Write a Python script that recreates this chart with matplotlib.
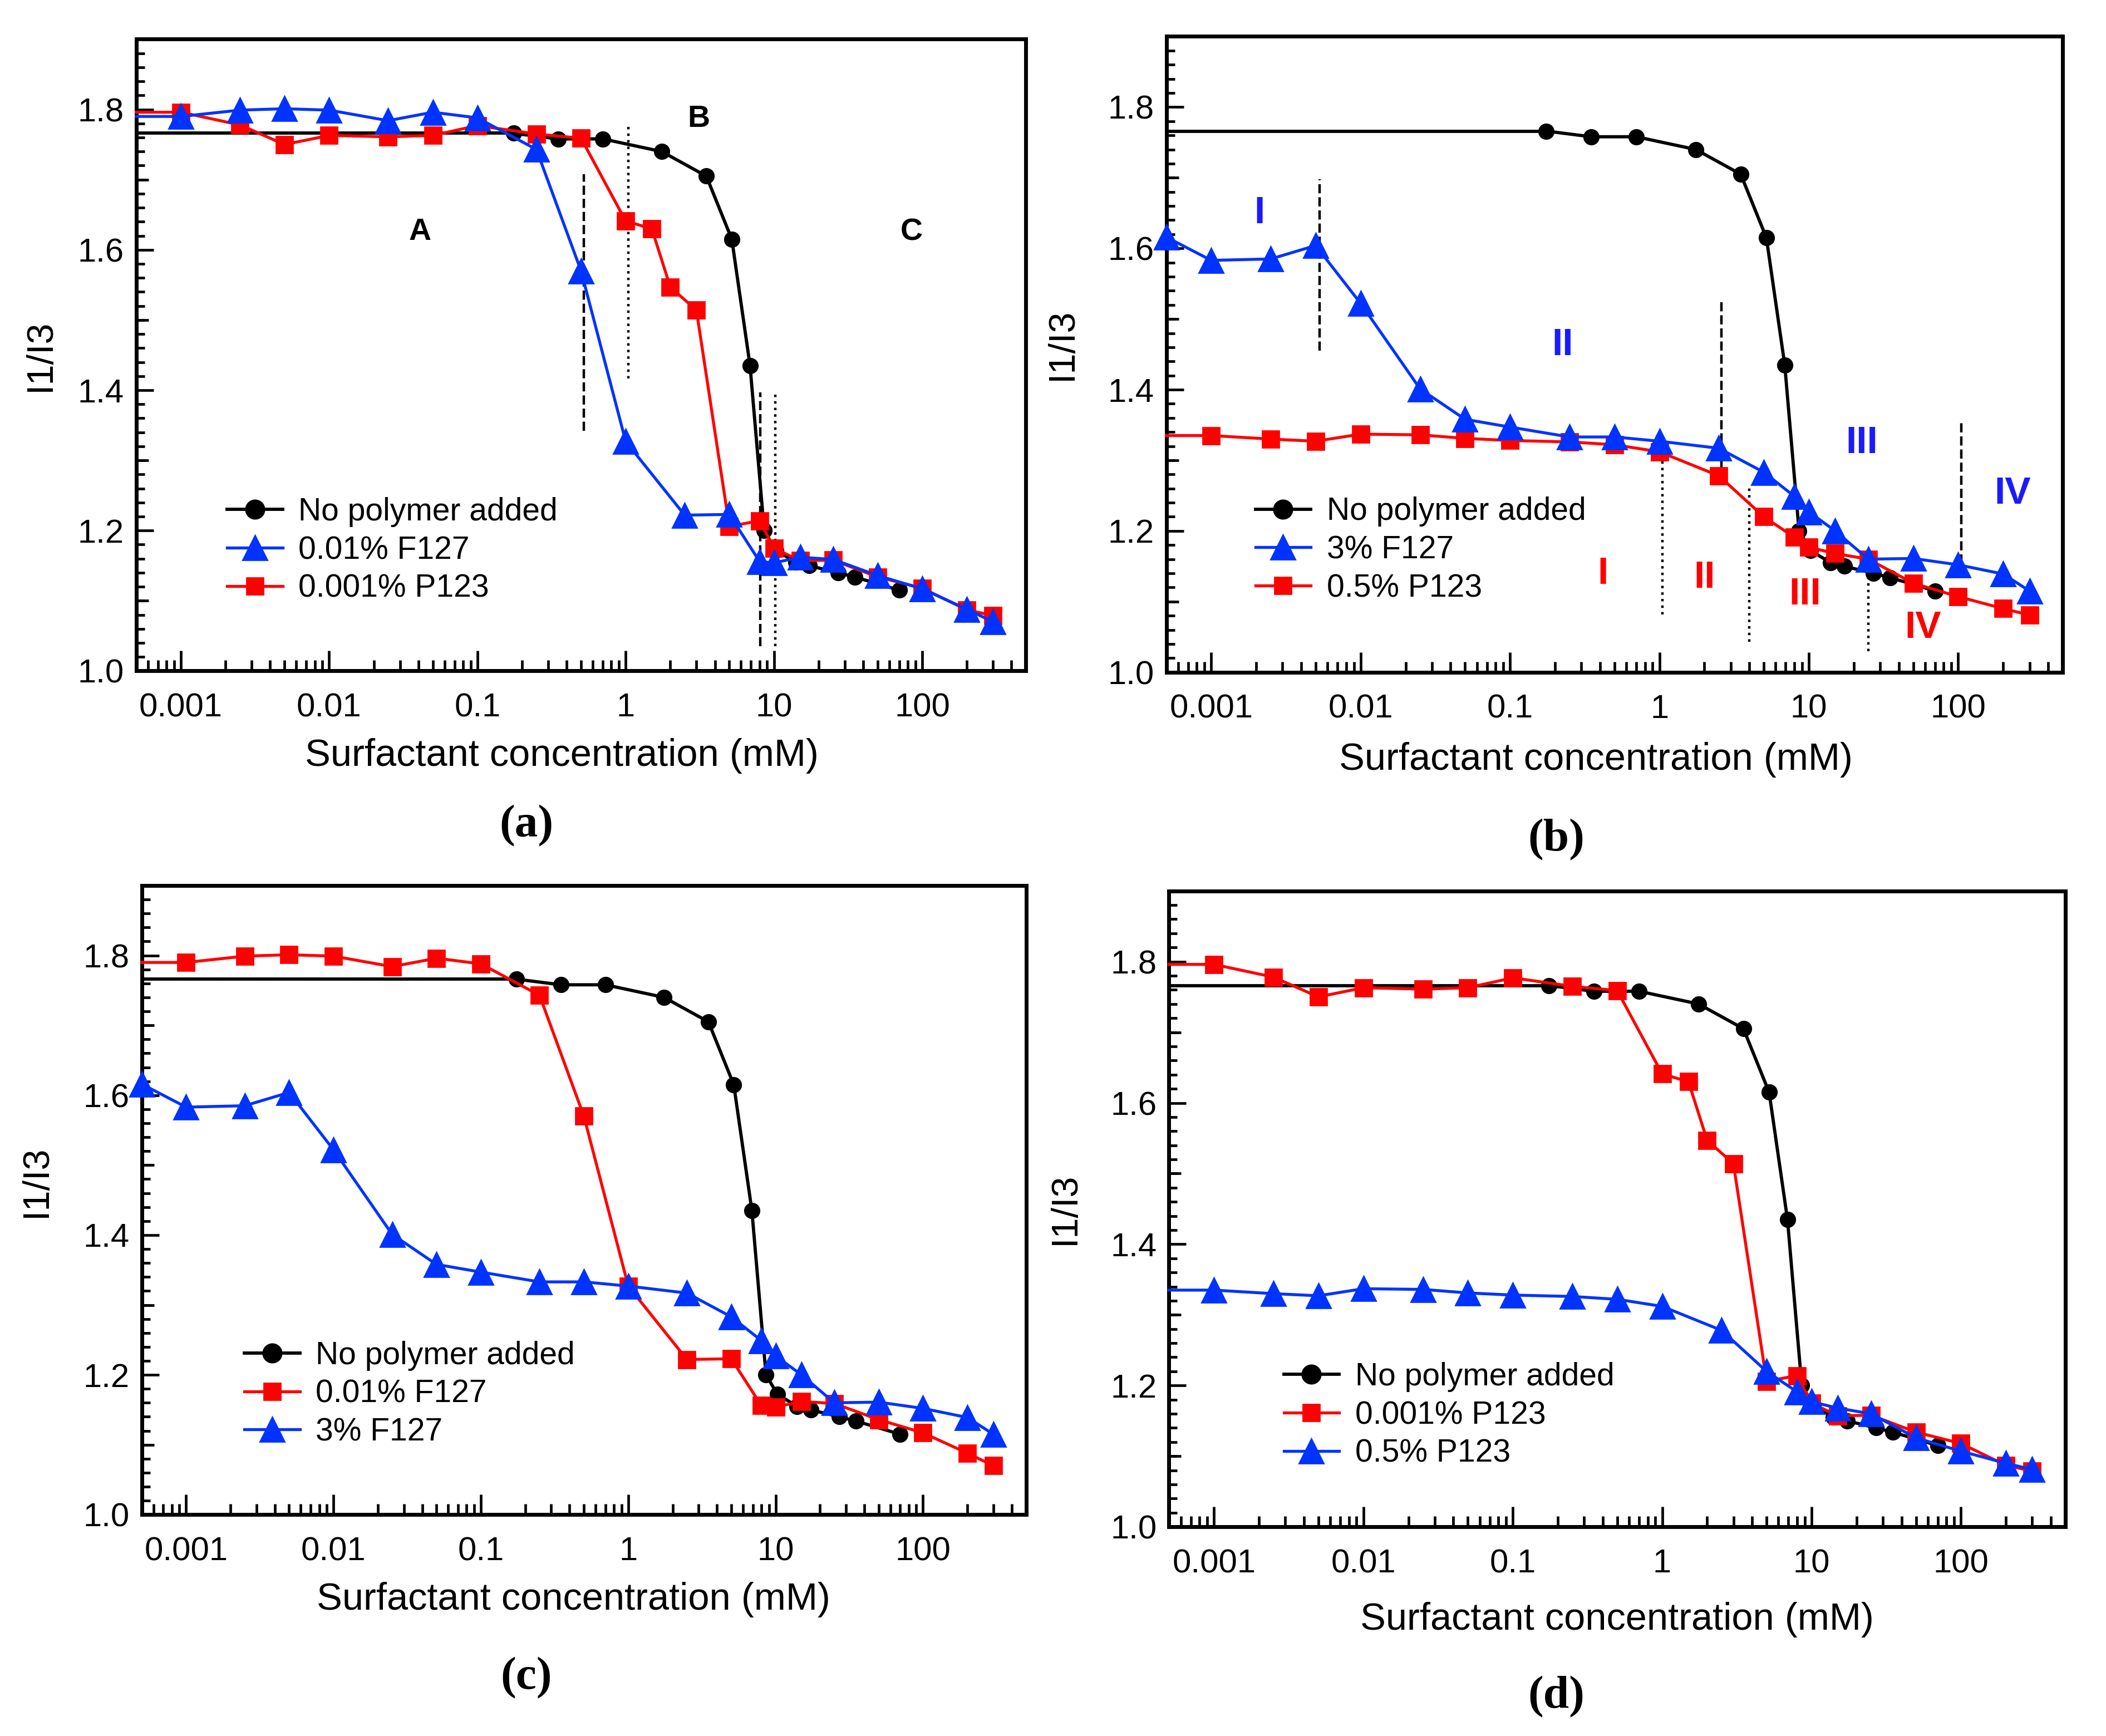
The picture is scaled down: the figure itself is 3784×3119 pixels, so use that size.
import numpy as np
import matplotlib
matplotlib.use("Agg")
import matplotlib.pyplot as plt
from matplotlib.ticker import FixedLocator, FixedFormatter, LogLocator, NullFormatter, MultipleLocator

plt.rcParams["font.family"] = ["Liberation Sans", "DejaVu Sans"]

# no polymer (same curve in every panel)
conc_pure = [0.175, 0.35, 0.7, 1.75, 3.5, 5.2, 6.9, 8.6, 10.3, 14, 17.3, 27, 35, 70]
ratio_pure = [1.766, 1.758, 1.758, 1.740, 1.705, 1.615, 1.435, 1.200, 1.172,
              1.155, 1.150, 1.140, 1.134, 1.115]

# polymer series
conc_poly = [0.0005, 0.001, 0.0025, 0.005, 0.01, 0.025, 0.05, 0.1, 0.25, 0.5,
             1, 2.5, 5, 8, 10, 15, 25, 50, 100, 200, 300]
ratio_f127_low = [1.790, 1.790, 1.799, 1.801, 1.799, 1.784, 1.796, 1.788, 1.743, 1.570,
                  1.327, 1.222, 1.223, 1.156, 1.154, 1.162, 1.159, 1.136, 1.117, 1.088, 1.070]
ratio_f127_high = [1.616, 1.583, 1.585, 1.604, 1.522, 1.401, 1.358, 1.347, 1.333, 1.333,
                   1.327, 1.317, 1.283, 1.249, 1.227, 1.200, 1.160, 1.161, 1.152, 1.139, 1.115]
ratio_p123_high = [1.335, 1.335, 1.330, 1.327, 1.337, 1.336, 1.331, 1.328, 1.326, 1.322,
                   1.312, 1.278, 1.220, 1.191, 1.177, 1.168, 1.160, 1.126, 1.107, 1.090, 1.081]

conc_p123_low = [0.0005, 0.001, 0.0025, 0.005, 0.01, 0.025, 0.05, 0.1, 0.25, 0.5,
                 1, 1.5, 2, 3, 5, 8, 10, 15, 25, 50, 100, 200, 300]
ratio_p123_low = [1.796, 1.796, 1.778, 1.750, 1.763, 1.761, 1.763, 1.777, 1.765, 1.759,
                  1.641, 1.630, 1.547, 1.514, 1.206, 1.214, 1.175, 1.157, 1.158, 1.134,
                  1.118, 1.087, 1.079]

xtick_vals = [0.001, 0.01, 0.1, 1, 10, 100]
xtick_labels = ["0.001", "0.01", "0.1", "1", "10", "100"]
ytick_vals = [1.0, 1.2, 1.4, 1.6, 1.8]
ytick_labels = ["1.0", "1.2", "1.4", "1.6", "1.8"]

# region markers (a)
regions_a = [("A", 0.041, 1.625), ("B", 3.1, 1.786), ("C", 85, 1.625)]
vlines_a = [(0.52, 1.342, 1.708, "--"), (1.04, 1.417, 1.780, ":"),
            (8.1, 1.035, 1.397, "--"), (10.2, 1.035, 1.397, ":")]

# regions (b)
regions_b = [("I", 0.0021, 1.650, "#1a1aff"), ("II", 0.224, 1.463, "#1a1aff"),
             ("III", 22.6, 1.324, "#1a1aff"), ("IV", 232, 1.253, "#1a1aff"),
             ("I", 0.42, 1.139, "red"), ("II", 2.0, 1.134, "red"),
             ("III", 9.4, 1.110, "red"), ("IV", 58, 1.063, "red")]
vlines_b = [(0.0053, 1.455, 1.698, "--"), (2.6, 1.288, 1.527, "--"), (105, 1.135, 1.353, "--"),
            (1.05, 1.082, 1.306, ":"), (4.0, 1.043, 1.261, ":"), (25, 1.030, 1.159, ":")]

XMIN, XMAX = 0.0005, 500
BLUE = "#0033ff"
RED = "#ff0000"
FS_TICK = 21.5
FS_LEG = 20.5


def setup_axes(ax):
    ax.set_xscale("log")
    ax.set_xlim(XMIN, XMAX)
    ax.set_ylim(1.0, 1.9)
    ax.xaxis.set_major_locator(FixedLocator(xtick_vals))
    ax.xaxis.set_major_formatter(FixedFormatter(xtick_labels))
    ax.xaxis.set_minor_locator(LogLocator(base=10, subs=np.arange(2, 10), numticks=30))
    ax.xaxis.set_minor_formatter(NullFormatter())
    ax.yaxis.set_major_locator(FixedLocator(ytick_vals))
    ax.yaxis.set_major_formatter(FixedFormatter(ytick_labels))
    ax.yaxis.set_minor_locator(MultipleLocator(0.02))
    ax.tick_params(axis="x", which="major", direction="in", length=13, width=1.7, pad=14, labelsize=FS_TICK)
    ax.tick_params(axis="x", which="minor", direction="in", length=7, width=1.7)
    ax.tick_params(axis="y", which="major", direction="in", length=11, width=1.7, pad=8, labelsize=FS_TICK)
    ax.tick_params(axis="y", which="minor", direction="in", length=5.5, width=1.7)
    ax.tick_params(top=False, right=False, which="both")
    for sp in ax.spines.values():
        sp.set_linewidth(2.5)
    # medium ticks at the odd tenths
    sec = ax.secondary_yaxis("left")
    sec.set_yticks([1.1, 1.3, 1.5, 1.7])
    sec.tick_params(axis="y", direction="in", length=8, width=1.7, labelleft=False)
    sec.spines["left"].set_visible(False)


def draw_pure(ax):
    # flat line from the axis edge to the first point
    ax.plot([XMIN, conc_pure[0]], [ratio_pure[0], ratio_pure[0]], color="k", lw=2.1, zorder=2)
    line, = ax.plot(conc_pure, ratio_pure, color="k", marker="o", ms=9.5, lw=2.1,
                    label="No polymer added", zorder=2, clip_on=False)
    return line


def draw_poly(ax, x, y, color, marker, label, skip_first, z):
    ms = 15.5 if marker == "^" else 11
    every = slice(1, None) if skip_first else None
    line, = ax.plot(x, y, color=color, marker=marker, ms=ms, lw=1.9, label=label,
                    markevery=every, zorder=z, clip_on=False)
    return line


def finish(ax, handles, legend_xy, xlab_xy, ylab_xy, letter, letter_xy):
    leg = ax.legend(handles=handles, loc="upper left", bbox_to_anchor=legend_xy, frameon=False,
                    fontsize=FS_LEG, borderpad=0, borderaxespad=0, handlelength=1.75,
                    handletextpad=0.5, labelspacing=0.26)
    for h in leg.legend_handles:
        if h.get_marker() == "o":
            h.set_markersize(12)
    fig.text(xlab_xy[0], xlab_xy[1], "Surfactant concentration (mM)", fontsize=24.7,
             ha="center", va="center")
    fig.text(ylab_xy[0], ylab_xy[1], "I1/I3", fontsize=24, rotation=90,
             ha="center", va="center")
    fig.text(letter_xy[0], letter_xy[1], letter, fontsize=30, fontweight="bold",
             family=["Liberation Serif", "DejaVu Serif"], ha="center", va="center")


fig = plt.figure(figsize=(18.92, 15.595), dpi=200)

ax_a = fig.add_axes([0.0647, 0.6135, 0.4224, 0.3639])
ax_b = fig.add_axes([0.5538, 0.6128, 0.4256, 0.3662])
ax_c = fig.add_axes([0.0673, 0.1275, 0.4199, 0.3624])
ax_d = fig.add_axes([0.5551, 0.1205, 0.4256, 0.3663])

for ax in (ax_a, ax_b, ax_c, ax_d):
    setup_axes(ax)

# (a)
h0 = draw_pure(ax_a)
h2 = draw_poly(ax_a, conc_p123_low, ratio_p123_low, RED, "s", "0.001% P123", True, 3)
h1 = draw_poly(ax_a, conc_poly, ratio_f127_low, BLUE, "^", "0.01% F127", True, 4)
for name, x, y in regions_a:
    ax_a.text(x, y, name, fontsize=20, fontweight="bold", ha="center", va="center")
for x, y0, y1, ls in vlines_a:
    ax_a.vlines(x, y0, y1, colors="k", linestyles=ls, lw=1.6)
finish(ax_a, [h0, h1, h2], (0.102, 0.275), (0.2667, 0.5645), (0.0192, 0.7955),
       "(a)", (0.25, 0.5241))

# (b)
h0 = draw_pure(ax_b)
h2 = draw_poly(ax_b, conc_poly, ratio_p123_high, RED, "s", "0.5% P123", True, 3)
h1 = draw_poly(ax_b, conc_poly, ratio_f127_high, BLUE, "^", "3% F127", False, 4)
for name, x, y, c in regions_b:
    ax_b.text(x, y, name, fontsize=25, fontweight="bold", color=c, ha="center", va="center",
              family=["Liberation Sans Narrow", "Liberation Sans", "DejaVu Sans"])
for x, y0, y1, ls in vlines_b:
    ax_b.vlines(x, y0, y1, colors="k", linestyles=ls, lw=1.6)
finish(ax_b, [h0, h1, h2], (0.0994, 0.276), (0.7577, 0.5622), (0.5045, 0.8017),
       "(b)", (0.7391, 0.5163))

# (c)
h0 = draw_pure(ax_c)
h1 = draw_poly(ax_c, conc_poly, ratio_f127_low, RED, "s", "0.01% F127", True, 3)
h2 = draw_poly(ax_c, conc_poly, ratio_f127_high, BLUE, "^", "3% F127", False, 4)
finish(ax_c, [h0, h1, h2], (0.116, 0.2765), (0.2724, 0.0785), (0.0173, 0.3196),
       "(c)", (0.25, 0.0334))

# (d)
h0 = draw_pure(ax_d)
h1 = draw_poly(ax_d, conc_p123_low, ratio_p123_low, RED, "s", "0.001% P123", True, 3)
h2 = draw_poly(ax_d, conc_poly, ratio_p123_high, BLUE, "^", "0.5% P123", True, 4)
finish(ax_d, [h0, h1, h2], (0.128, 0.259), (0.7679, 0.0669), (0.5058, 0.3040),
       "(d)", (0.7391, 0.0226))

fig.savefig("out.png", dpi=200)
